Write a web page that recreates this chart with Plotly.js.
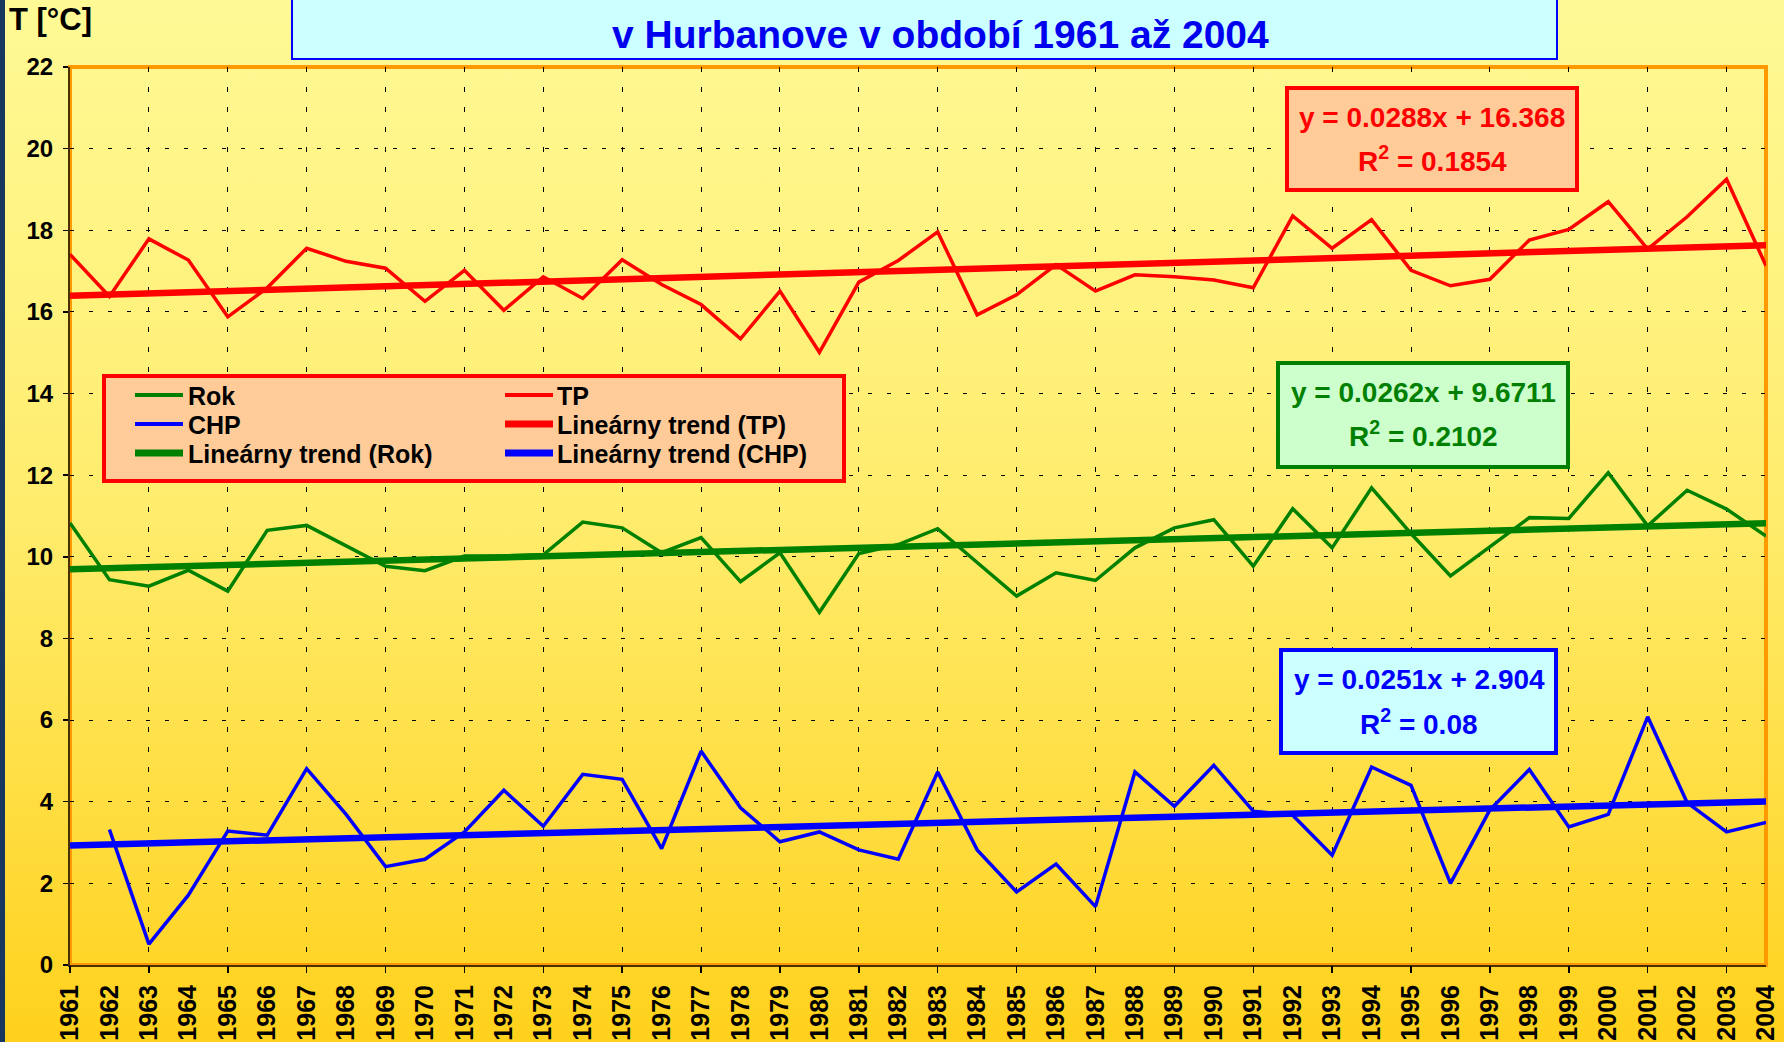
<!DOCTYPE html>
<html><head><meta charset="utf-8">
<script src="https://cdn.plot.ly/plotly-3.0.1.min.js"></script>
<style>
html,body{margin:0;padding:0;width:1784px;height:1042px;overflow:hidden;}
body{background:linear-gradient(to bottom,#FFFA96 0%,#FFEC6C 50%,#FFD11C 100%);}
#strip{position:absolute;left:0;top:0;width:5px;height:1042px;background:#17375E;}
#chart{position:absolute;left:0;top:0;width:1784px;height:1042px;}
</style></head><body><div id="strip"></div><div id="chart"></div>
<script>
const years = [1961,1962,1963,1964,1965,1966,1967,1968,1969,1970,1971,1972,1973,1974,1975,1976,1977,1978,1979,1980,1981,1982,1983,1984,1985,1986,1987,1988,1989,1990,1991,1992,1993,1994,1995,1996,1997,1998,1999,2000,2001,2002,2003,2004];
const tp  = [17.41,16.38,17.79,17.27,15.88,16.59,17.56,17.24,17.07,16.26,17.02,16.04,16.86,16.33,17.28,16.67,16.18,15.34,16.51,15.01,16.73,17.26,17.96,15.93,16.42,17.16,16.51,16.91,16.86,16.78,16.59,18.35,17.56,18.26,17.02,16.64,16.80,17.76,18.02,18.70,17.54,18.33,19.25,17.13];
const rok = [10.83,9.44,9.28,9.67,9.16,10.65,10.77,10.26,9.77,9.66,10.02,10.02,10.05,10.85,10.71,10.10,10.47,9.39,10.10,8.64,10.08,10.30,10.69,9.86,9.04,9.61,9.42,10.22,10.71,10.91,9.77,11.18,10.22,11.69,10.57,9.53,10.24,10.96,10.94,12.06,10.76,11.63,11.17,10.51];
const chp = [null,3.32,0.51,1.71,3.28,3.18,4.81,3.69,2.41,2.59,3.26,4.28,3.40,4.67,4.55,2.85,5.24,3.85,3.02,3.26,2.82,2.59,4.73,2.82,1.79,2.47,1.43,4.73,3.89,4.89,3.77,3.67,2.69,4.85,4.40,2.00,3.80,4.79,3.38,3.69,6.08,3.98,3.26,3.49];
const seriesNames = ['Rok','TP','CHP'];
const trendNames = ['Lineárny trend (TP)','Lineárny trend (Rok)','Lineárny trend (CHP)'];
// trend equations as printed on the chart: y = slope*x + intercept, x = 1..44
const trendSlope = [0.0288, 0.0262, 0.0251];      // TP, Rok, CHP
const trendIntercept = [16.368, 9.6711, 2.904];
const trendR2 = [0.1854, 0.2102, 0.08];
const yTicks = [0,2,4,6,8,10,12,14,16,18,20,22];
const titleText = 'v Hurbanove v období 1961 až 2004';
const yTitle = 'T [°C]';

const FONT = 'Arial, "Liberation Sans", sans-serif';
const RED='#FF0000', GREEN='#008000', BLUE='#0000FF';
const W=1784, H=1042, L=70, R=18, T=67, B=77;
const PW=W-L-R, PH=H-T-B;
const px = x => (x-L)/PW;
const py = y => (H-B-y)/PH;

const trendVals = i => years.map(y => trendSlope[i]*(y-1960)+trendIntercept[i]);

const traces = [
  {x:years, y:rok, name:seriesNames[0], mode:'lines', line:{color:GREEN,width:3.5}},
  {x:years, y:tp, name:seriesNames[1], mode:'lines', line:{color:RED,width:3.5}},
  {x:years, y:chp, name:seriesNames[2], mode:'lines', line:{color:BLUE,width:3.5}},
  {x:years, y:trendVals(0), name:trendNames[0], mode:'lines', line:{color:RED,width:6.5}},
  {x:years, y:trendVals(1), name:trendNames[1], mode:'lines', line:{color:GREEN,width:6.5}},
  {x:years, y:trendVals(2), name:trendNames[2], mode:'lines', line:{color:BLUE,width:6.5}},
];
traces.forEach(t=>{t.hoverinfo='skip'; t.showlegend=false;});

const oddYears = years.filter(y => (y-1961)%2===0);

const shapes = [
  {type:'rect', xref:'paper', yref:'paper', x0:0, x1:1, y0:0, y1:1, line:{color:'#FF9900',width:4}, layer:'below'},
  {type:'rect', xref:'paper', yref:'paper', x0:px(292), x1:px(1557), y0:py(59), y1:py(-20), fillcolor:'#CCFFFF', line:{color:BLUE,width:2}, layer:'above'},
  {type:'rect', xref:'paper', yref:'paper', x0:px(104), x1:px(844), y0:py(481), y1:py(376), fillcolor:'#FFCC99', line:{color:RED,width:4}, layer:'above'},
  {type:'rect', xref:'paper', yref:'paper', x0:px(1287), x1:px(1577), y0:py(190), y1:py(88), fillcolor:'#FFCC99', line:{color:RED,width:4}, layer:'above'},
  {type:'rect', xref:'paper', yref:'paper', x0:px(1278), x1:px(1568), y0:py(467), y1:py(363), fillcolor:'#CCFFCC', line:{color:GREEN,width:4}, layer:'above'},
  {type:'rect', xref:'paper', yref:'paper', x0:px(1281), x1:px(1556), y0:py(753), y1:py(650), fillcolor:'#CCFFFF', line:{color:BLUE,width:4}, layer:'above'},
];

const eqColors=[RED,GREEN,BLUE];
const eqCenters=[[1432,117,159],[1423,392,434],[1419,679,722]];
const annotations = [
  {xref:'paper', yref:'paper', x:px(941), y:py(35), xanchor:'center', yanchor:'middle', showarrow:false,
   text:titleText, font:{family:FONT,size:39,color:'#0000EE',weight:'bold'}},
  {xref:'paper', yref:'paper', x:px(7), y:py(19), xanchor:'left', yanchor:'middle', showarrow:false,
   text:yTitle, font:{family:FONT,size:31,color:'#000',weight:'bold'}},
];
for(let i=0;i<3;i++){
  const c=eqCenters[i];
  annotations.push({xref:'paper', yref:'paper', x:px(c[0]), y:py(c[1]), xanchor:'center', yanchor:'middle', showarrow:false,
    text:'y = '+trendSlope[i]+'x + '+trendIntercept[i], font:{family:FONT,size:28,color:eqColors[i],weight:'bold'}});
  annotations.push({xref:'paper', yref:'paper', x:px(c[0]), y:py(c[2]), xanchor:'center', yanchor:'middle', showarrow:false,
    text:'R<sup>2</sup> = '+trendR2[i], font:{family:FONT,size:28,color:eqColors[i],weight:'bold'}});
}

// manual two-column legend (row-major: Rok, TP / CHP, trend TP / trend Rok, trend CHP)
const legendOrder = [
  [seriesNames[0], GREEN, 4], [seriesNames[1], RED, 4],
  [seriesNames[2], BLUE, 4],  [trendNames[0], RED, 7],
  [trendNames[1], GREEN, 7],  [trendNames[2], BLUE, 7],
];
const legCols = [[135,183,186],[505,553,555]];
const legRows = [395,424,453];
legendOrder.forEach((e,k)=>{
  const c = legCols[k%2], r = legRows[Math.floor(k/2)];
  shapes.push({type:'line', xref:'paper', yref:'paper', x0:px(c[0]), x1:px(c[1]), y0:py(r), y1:py(r),
    line:{color:e[1], width:e[2]}, layer:'above'});
  annotations.push({xref:'paper', yref:'paper', x:px(c[2]), y:py(r+1), xanchor:'left', yanchor:'middle', showarrow:false,
    text:e[0], font:{family:FONT,size:25,color:'#000',weight:'bold'}});
});

const layout = {
  width:W, height:H,
  margin:{l:L,r:R,t:T,b:B,pad:0},
  paper_bgcolor:'rgba(0,0,0,0)', plot_bgcolor:'rgba(0,0,0,0)',
  showlegend:false,
  xaxis:{type:'linear', range:[1961,2004], tickmode:'array', tickvals:years, ticktext:years.map(String),
    tickangle:-90, ticks:'', showgrid:false, zeroline:false, showline:true, linecolor:'#4a3000', linewidth:2,
    tickfont:{family:FONT,size:25,color:'#000',weight:'bold'}, ticklabelstandoff:8, fixedrange:true},
  xaxis2:{type:'linear', range:[1961,2004], overlaying:'x', anchor:'y', side:'bottom', tickmode:'array', tickvals:oddYears,
    showticklabels:false, ticks:'outside', ticklen:7, tickwidth:1.5, tickcolor:'#000',
    showgrid:true, gridcolor:'#000', gridwidth:1, griddash:'5px,15px', zeroline:false, showline:false},
  yaxis:{range:[0,22], tickmode:'array', tickvals:yTicks, ticks:'outside', ticklen:5, tickwidth:1.5, tickcolor:'#000',
    showgrid:true, gridcolor:'#000', gridwidth:1, griddash:'4px,15px', zeroline:false,
    showline:true, linecolor:'#4a3000', linewidth:2,
    tickfont:{family:FONT,size:24,color:'#000',weight:'bold'}, ticklabelstandoff:5, fixedrange:true},
  shapes:shapes, annotations:annotations,
};
traces.push({x:[1961,2004], y:[null,null], xaxis:'x2', yaxis:'y', mode:'lines', showlegend:false, hoverinfo:'skip'});
Plotly.newPlot('chart', traces, layout, {displayModeBar:false, staticPlot:true});
</script></body></html>
